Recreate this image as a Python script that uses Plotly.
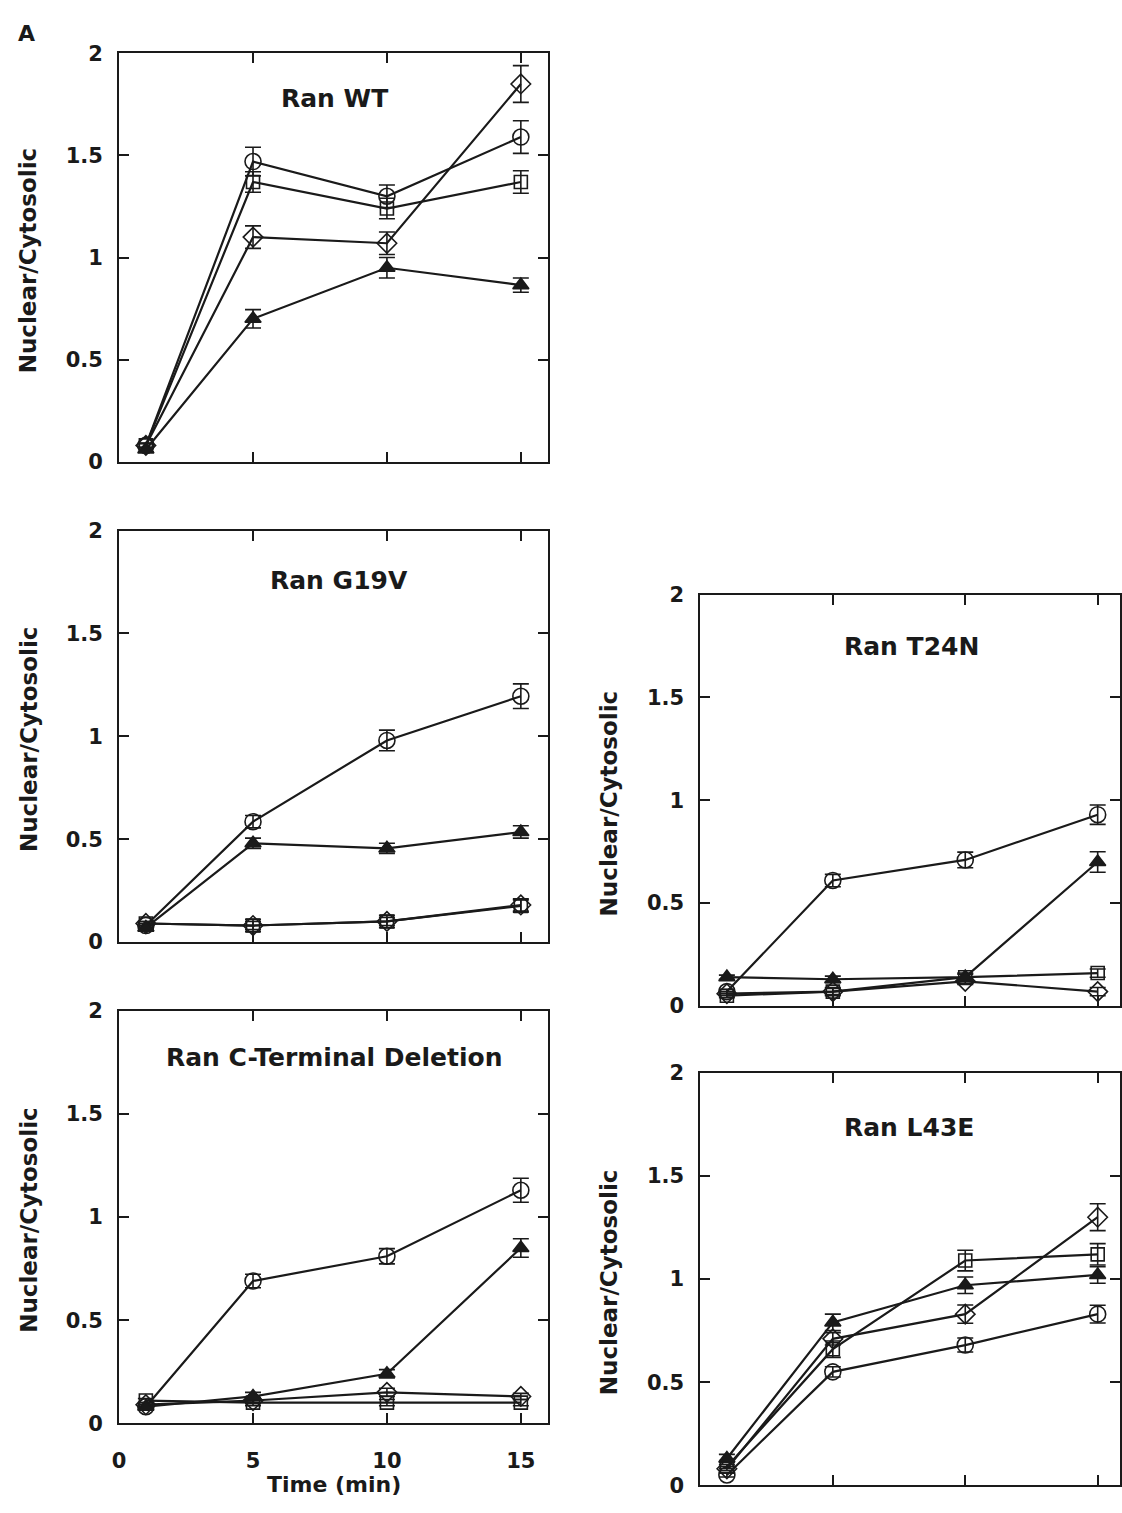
import plotly.graph_objects as go

# ---------------- data ----------------
time_min = [1, 5, 10, 15]

y_tickvals = [0, 0.5, 1, 1.5, 2]
y_ticktext = ["0", "0.5", "1", "1.5", "2"]
x_tickvals = [0, 5, 10, 15]
x_ticktext = ["0", "5", "10", "15"]

panel_titles = ["Ran WT", "Ran G19V", "Ran C-Terminal Deletion", "Ran T24N", "Ran L43E"]
y_title = "Nuclear/Cytosolic"
x_title = "Time (min)"
panel_letter = "A"

# Ran WT
wt_circle = [0.08, 1.47, 1.30, 1.59]
wt_circle_err = [0.01, 0.07, 0.055, 0.08]
wt_square = [0.08, 1.37, 1.24, 1.37]
wt_square_err = [0.01, 0.05, 0.05, 0.055]
wt_diamond = [0.08, 1.10, 1.07, 1.85]
wt_diamond_err = [0.01, 0.055, 0.055, 0.09]
wt_triangle = [0.06, 0.70, 0.95, 0.865]
wt_triangle_err = [0.01, 0.045, 0.05, 0.035]

# Ran G19V
g19v_circle = [0.08, 0.585, 0.98, 1.195]
g19v_circle_err = [0.01, 0.03, 0.05, 0.06]
g19v_square = [0.09, 0.08, 0.10, 0.175]
g19v_square_err = [0.01, 0.03, 0.03, 0.03]
g19v_diamond = [0.09, 0.08, 0.10, 0.18]
g19v_diamond_err = [0.01, 0.02, 0.02, 0.03]
g19v_triangle = [0.07, 0.48, 0.455, 0.535]
g19v_triangle_err = [0.01, 0.025, 0.025, 0.03]

# Ran C-terminal deletion
ctd_circle = [0.08, 0.69, 0.81, 1.13]
ctd_circle_err = [0.01, 0.033, 0.037, 0.058]
ctd_square = [0.11, 0.10, 0.10, 0.10]
ctd_square_err = [0.01, 0.015, 0.015, 0.015]
ctd_diamond = [0.09, 0.11, 0.15, 0.13]
ctd_diamond_err = [0.01, 0.015, 0.02, 0.015]
ctd_triangle = [0.08, 0.13, 0.24, 0.85]
ctd_triangle_err = [0.01, 0.02, 0.02, 0.045]

# Ran T24N
t24n_circle = [0.07, 0.61, 0.71, 0.93]
t24n_circle_err = [0.01, 0.03, 0.038, 0.047]
t24n_square = [0.05, 0.07, 0.14, 0.16]
t24n_square_err = [0.01, 0.02, 0.02, 0.02]
t24n_diamond = [0.06, 0.07, 0.12, 0.07]
t24n_diamond_err = [0.01, 0.015, 0.015, 0.02]
t24n_triangle = [0.14, 0.13, 0.14, 0.70]
t24n_triangle_err = [0.01, 0.015, 0.015, 0.05]

# Ran L43E
l43e_circle = [0.05, 0.55, 0.68, 0.83]
l43e_circle_err = [0.01, 0.025, 0.034, 0.043]
l43e_square = [0.09, 0.66, 1.09, 1.12]
l43e_square_err = [0.01, 0.04, 0.05, 0.052]
l43e_diamond = [0.08, 0.71, 0.83, 1.30]
l43e_diamond_err = [0.01, 0.03, 0.044, 0.065]
l43e_triangle = [0.13, 0.79, 0.97, 1.02]
l43e_triangle_err = [0.02, 0.04, 0.04, 0.04]

panels = [
    [(wt_circle, wt_circle_err), (wt_square, wt_square_err),
     (wt_diamond, wt_diamond_err), (wt_triangle, wt_triangle_err)],
    [(g19v_circle, g19v_circle_err), (g19v_square, g19v_square_err),
     (g19v_diamond, g19v_diamond_err), (g19v_triangle, g19v_triangle_err)],
    [(ctd_circle, ctd_circle_err), (ctd_square, ctd_square_err),
     (ctd_diamond, ctd_diamond_err), (ctd_triangle, ctd_triangle_err)],
    [(t24n_circle, t24n_circle_err), (t24n_square, t24n_square_err),
     (t24n_diamond, t24n_diamond_err), (t24n_triangle, t24n_triangle_err)],
    [(l43e_circle, l43e_circle_err), (l43e_square, l43e_square_err),
     (l43e_diamond, l43e_diamond_err), (l43e_triangle, l43e_triangle_err)],
]

# ---------------- styling / layout ----------------
W, H = 1122, 1513
INK = "#1a1a1a"
FONT = "DejaVu Sans"

symbols = [("circle-open", 16), ("square-open", 13), ("diamond-open", 15), ("triangle-up", 14)]

# panel frames in pixels: (left, right, top, bottom)
frames = [
    (113, 545, 42, 457),
    (113, 545, 527, 945),
    (113, 545, 1015, 1434),
    (699, 1122, 592, 1010),
    (699, 1122, 1078, 1497),
]
px_per_min = [27.0, 27.0, 27.0, 26.7, 26.7]

title_pos = [(330, 88), (335, 578), (330, 1062), (912, 645), (909, 1133)]

fig = go.Figure()

for i, series in enumerate(panels):
    ax = "" if i == 0 else str(i + 1)
    for (vals, errs), (sym, size) in zip(series, symbols):
        fig.add_trace(go.Scatter(
            x=time_min, y=vals,
            mode="lines+markers",
            xaxis="x" + ax, yaxis="y" + ax,
            line=dict(color=INK, width=2.2),
            marker=dict(symbol=sym, size=size,
                        color=INK,
                        line=dict(color=INK, width=1.6)),
            error_y=dict(type="data", array=errs, color=INK, thickness=1.6, width=8),
            showlegend=False,
            cliponaxis=False,
        ))

layout = dict(
    width=W, height=H,
    margin=dict(l=0, r=0, t=0, b=0),
    paper_bgcolor="white", plot_bgcolor="white",
    showlegend=False,
    font=dict(family=FONT, color=INK),
)

for i, (l, r, t, b) in enumerate(frames):
    ax = "" if i == 0 else str(i + 1)
    xmax = (r - l) / px_per_min[i]
    show_x_labels = (i == 2)
    layout["xaxis" + ax] = dict(
        domain=[l / W, r / W], anchor="y" + ax,
        range=[0, xmax], tickvals=x_tickvals, ticktext=x_ticktext,
        showticklabels=show_x_labels,
        ticks="inside", ticklen=10, tickwidth=2, tickcolor=INK,
        showline=True, linewidth=2, linecolor=INK, mirror="ticks",
        showgrid=False, zeroline=False, fixedrange=True,
        tickfont=dict(family=FONT, size=21, weight="bold", color=INK),
        ticklabelstandoff=18,
    )
    layout["yaxis" + ax] = dict(
        domain=[1 - b / H, 1 - t / H], anchor="x" + ax,
        range=[0, 2], tickvals=y_tickvals, ticktext=y_ticktext,
        ticks="inside", ticklen=10, tickwidth=2, tickcolor=INK,
        showline=True, linewidth=2, linecolor=INK, mirror="ticks",
        showgrid=False, zeroline=False, fixedrange=True,
        tickfont=dict(family=FONT, size=21, weight="bold", color=INK),
        ticklabelstandoff=10,
    )

annotations = []
for (cx, cy), txt in zip(title_pos, panel_titles):
    annotations.append(dict(
        x=cx / W, y=1 - cy / H, xref="paper", yref="paper",
        text=txt, showarrow=False, xanchor="center", yanchor="middle",
        font=dict(family=FONT, size=25, weight="bold", color=INK),
    ))

for i, (l, r, t, b) in enumerate(frames):
    tx = 22 if l < 300 else 607
    annotations.append(dict(
        x=tx / W, y=1 - ((t + b) / 2 + 3) / H, xref="paper", yref="paper",
        text=y_title, showarrow=False, textangle=-90,
        xanchor="center", yanchor="middle",
        font=dict(family=FONT, size=23, weight="bold", color=INK),
    ))

annotations.append(dict(
    x=330 / W, y=1 - 1496 / H, xref="paper", yref="paper",
    text=x_title, showarrow=False, xanchor="center", yanchor="middle",
    font=dict(family=FONT, size=22, weight="bold", color=INK),
))
annotations.append(dict(
    x=20 / W, y=1 - 22 / H, xref="paper", yref="paper",
    text=panel_letter, showarrow=False, xanchor="center", yanchor="middle",
    font=dict(family=FONT, size=22, weight="bold", color=INK),
))

layout["annotations"] = annotations
fig.update_layout(**layout)

fig.write_html(
    "out.html",
    config={"displayModeBar": False},
    post_script="document.body.style.margin='0';document.body.style.overflow='hidden';",
)
